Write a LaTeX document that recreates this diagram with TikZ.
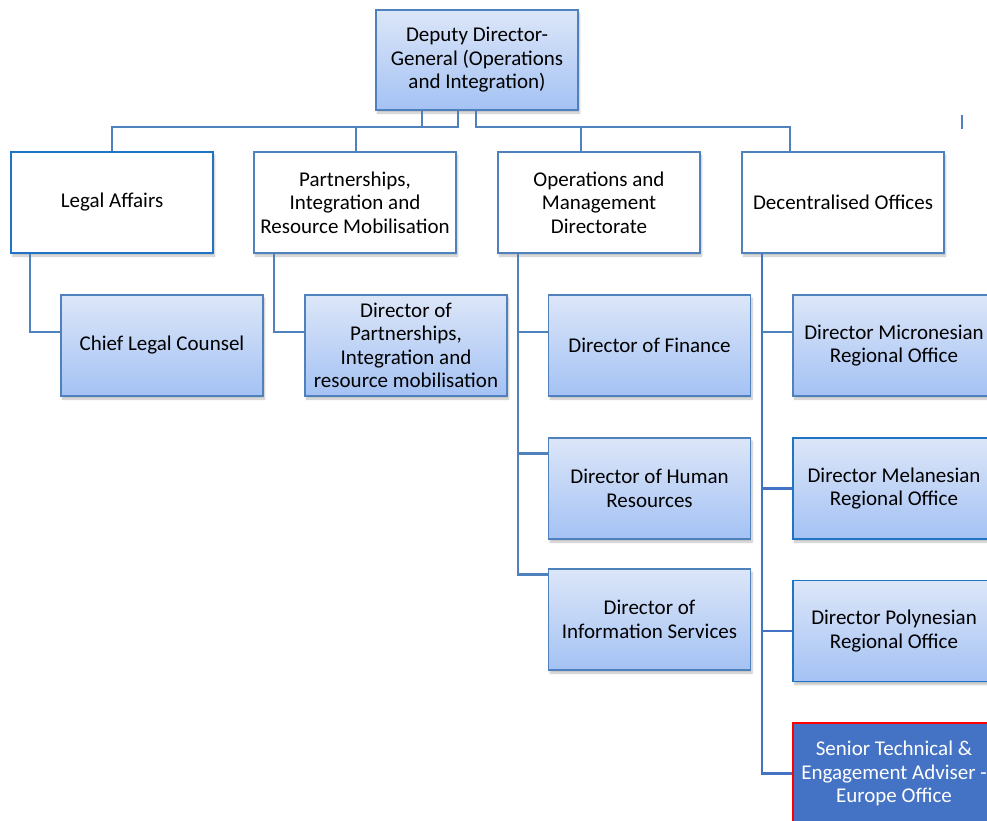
\documentclass[tikz,border=0pt]{standalone}
\usepackage{fontspec}
\setmainfont{Carlito}
\usetikzlibrary{shadows.blur,calc}
\definecolor{lineblue}{HTML}{4F81BD}
\definecolor{darkline}{HTML}{4472C4}
\definecolor{brightblue}{HTML}{1F74C6}
\definecolor{gtop}{HTML}{DCE6F8}
\definecolor{gbot}{HTML}{A4C2F4}
\definecolor{seniorfill}{HTML}{4472C4}
\tikzset{
  base/.style={rectangle, minimum width=202pt, minimum height=101pt, inner sep=2pt,
    align=center, font=\fontsize{21}{23.5}\selectfont, text=black,
    blur shadow={shadow xshift=1.5pt, shadow yshift=-3pt, shadow opacity=25, shadow blur steps=6}},
  lvltwo/.style={base, draw=lineblue, line width=2pt, fill=white},
  lvlthree/.style={base, draw=lineblue, line width=1.8pt, top color=gtop, bottom color=gbot},
  conn/.style={draw=lineblue, line width=2.1pt},
  dconn/.style={draw=darkline, line width=2.8pt},
}
\begin{document}
\begin{tikzpicture}[x=1pt,y=-1pt]
\useasboundingbox (0,0) rectangle (987,820);
\clip (0,0) rectangle (987,820);
% nodes
\node[lvlthree, minimum height=100pt] (top) at (477,60) {Deputy Director-\\General (Operations\\and Integration)};
\node[lvltwo, draw=brightblue] (legal) at (112,202.5) {Legal Affairs};
\node[lvltwo] (part) at (355,202.5) {Partnerships,\\Integration and\\Resource Mobilisation};
\node[lvltwo] (ops) at (599,202.5) {Operations and\\Management\\Directorate};
\node[lvltwo] (dec) at (843,202.5) {Decentralised Offices};

\node[lvlthree] (chief) at (162,345.5) {Chief Legal Counsel};
\node[lvlthree] (dpart) at (406,345.5) {Director of\\Partnerships,\\Integration and\\resource mobilisation};
\node[lvlthree] (fin) at (649.5,345.5) {Director of Finance};
\node[lvlthree] (hr) at (649.5,488.5) {Director of Human\\Resources};
\node[lvlthree] (info) at (649.5,619.5) {Director of\\Information Services};
\node[lvlthree] (micro) at (894,345.5) {Director Micronesian\\Regional Office};
\node[lvlthree, draw=brightblue] (mela) at (894,488.5) {Director Melanesian\\Regional Office};
\node[lvlthree, draw=brightblue] (poly) at (894,631) {Director Polynesian\\Regional Office};
\node[base, fill=seniorfill, draw=red, line width=2pt, text=white] (senior) at (894,773.5) {Senior Technical \&\\Engagement Adviser -\\Europe Office};

% top connectors
\coordinate (bus) at (0,127);
\coordinate (t1) at ([xshift=47pt]top.south west);
\coordinate (t2) at ([xshift=83pt]top.south west);
\coordinate (t3) at ([xshift=101pt]top.south west);
\coordinate (pn) at ([xshift=1pt]part.north);
\coordinate (on) at ([xshift=-18pt]ops.north);
\coordinate (dn) at ([xshift=-53pt]dec.north);
\draw[conn] (legal.north) -- (legal.north |- bus) -- (t2 |- bus) -- (t2);
\draw[conn] (t1) -- (t1 |- bus);
\draw[conn] (pn) -- (pn |- bus);
\draw[conn] (t3) -- (t3 |- bus) -- (dn |- bus) -- (dn);
\draw[conn] (on) -- (on |- bus);

% level 2 to level 3
\draw[conn] ([xshift=20pt]legal.south west) |- ([yshift=13.5pt]chief.west);
\draw[conn] ([xshift=21pt]part.south west) |- ([yshift=13.5pt]dpart.west);
\coordinate (o) at ([xshift=21pt]ops.south west);
\draw[conn] (o) |- ([yshift=45pt]info.west);
\draw[conn] (o |- fin.west) ++(0,-13.5) -- ([yshift=13.5pt]fin.west);
\draw[conn] (o |- hr.west) ++(0,-35) -- ([yshift=35pt]hr.west);
\coordinate (d) at ([xshift=21pt]dec.south west);
\draw[dconn] (d) |- (senior.west);
\draw[conn] (d |- micro.west) ++(0,-13.5) -- ([yshift=13.5pt]micro.west);
\draw[dconn] (d |- mela.west) -- (mela.west);
\draw[dconn] (d |- poly.west) -- (poly.west);

% stray mark
\draw[conn, line width=1.5pt] (962,115) -- (962,129);
\end{tikzpicture}
\end{document}
